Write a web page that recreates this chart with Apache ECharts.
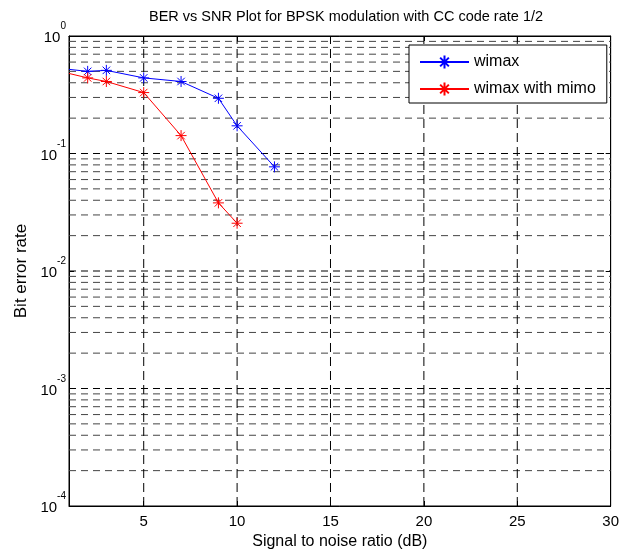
<!DOCTYPE html>
<html>
<head>
<meta charset="utf-8">
<script src="https://cdn.jsdelivr.net/npm/echarts@6/dist/echarts.min.js"></script>
<style>
html,body{margin:0;padding:0;background:#fff;}
#chart{width:622px;height:557px;}
</style>
</head>
<body>
<div id="chart"></div>
<script>
// ---- data ----
const snrWimax = [1, 2, 3, 5, 7, 9, 10, 12];
const berWimax = [0.52, 0.50, 0.51, 0.44, 0.41, 0.295, 0.172, 0.077];
const snrMimo = [1, 2, 3, 5, 7, 9, 10];
const berMimo = [0.48, 0.44, 0.41, 0.33, 0.142, 0.038, 0.0255];
const seriesNames = ['wimax', 'wimax with mimo'];
const xTicks = [5, 10, 15, 20, 25, 30];
const xRange = [1, 30];
const yRange = [0.0001, 1];
const yMajorGrid = [0.001, 0.01, 0.1];
const decades = [0.0001, 0.001, 0.01, 0.1];
const minorMultipliers = [2, 3, 4, 5, 6, 7, 8, 9];
const xGrid = [5, 10, 15, 20, 25];

const yMinorGrid = [];
decades.forEach(d => minorMultipliers.forEach(m => yMinorGrid.push(+(d * m).toPrecision(3))));

const FONT = 'Liberation Sans';
const star = 'path://M5,0L5,10M0,5L10,5M1.6,1.6L8.4,8.4M1.6,8.4L8.4,1.6';

function mkData(xs, ys) {
  return xs.map((x, i) => i === 0 ? {value: [x, ys[i]], symbol: 'none'} : [x, ys[i]]);
}
function hSegs(vals) {
  const out = [];
  vals.forEach(v => { out.push([xRange[0], v], [xRange[1], v], ['-', '-']); });
  return out;
}
function vSegs(vals) {
  const out = [];
  vals.forEach(v => { out.push([v, yRange[0]], [v, yRange[1]], ['-', '-']); });
  return out;
}
function gridSeries(data, color, dash) {
  return {
    type: 'line', data: data, silent: true, symbol: 'none', z: 1,
    connectNulls: false, clip: true,
    lineStyle: {color: color, width: 1, type: dash},
    emphasis: {disabled: true}, tooltip: {show: false}
  };
}

const chart = echarts.init(document.getElementById('chart'), null, {renderer: 'canvas'});
chart.setOption({
  animation: false,
  backgroundColor: '#fff',
  textStyle: {fontFamily: FONT},
  title: {
    text: 'BER vs SNR Plot for BPSK modulation with CC code rate 1/2',
    left: 341, top: 4, textAlign: 'center',
    textStyle: {fontFamily: FONT, fontSize: 14.5, fontWeight: 'normal', color: '#000'}
  },
  grid: {left: 69, right: 9, top: 36, bottom: 51, show: true, borderColor: '#000', borderWidth: 1, containLabel: false},
  legend: {
    orient: 'vertical', left: 409, top: 45,
    padding: [9, 11, 6, 10], itemGap: 11, itemWidth: 49, itemHeight: 16,
    backgroundColor: '#fff', borderColor: '#000', borderWidth: 1,
    textStyle: {fontFamily: FONT, fontSize: 16, color: '#000'},
    data: seriesNames
  },
  xAxis: [{
    type: 'value', min: xRange[0], max: xRange[1],
    name: 'Signal to noise ratio (dB)', nameLocation: 'middle', nameGap: 28,
    nameTextStyle: {fontFamily: FONT, fontSize: 16, color: '#000'},
    axisLine: {show: true, lineStyle: {color: '#000'}},
    axisTick: {show: true, inside: true, length: 5, customValues: xTicks, lineStyle: {color: '#000'}},
    axisLabel: {customValues: xTicks, fontFamily: FONT, fontSize: 15, color: '#000', margin: 8},
    splitLine: {show: false}
  }, {
    type: 'value', min: xRange[0], max: xRange[1], position: 'top',
    axisLine: {show: true, lineStyle: {color: '#000'}},
    axisTick: {show: true, inside: true, length: 5, customValues: xTicks, lineStyle: {color: '#000'}},
    axisLabel: {show: false},
    splitLine: {show: false}
  }],
  yAxis: [{
    type: 'log', logBase: 10, min: yRange[0], max: yRange[1],
    name: 'Bit error rate', nameLocation: 'middle', nameGap: 39,
    nameTextStyle: {fontFamily: FONT, fontSize: 17, color: '#000'},
    axisLine: {show: true, lineStyle: {color: '#000'}},
    axisTick: {show: true, inside: true, length: 5, lineStyle: {color: '#000'}},
    axisLabel: {
      margin: 3,
      padding: [0, 0, 5, 0],
      formatter: v => '{b|10}{s|' + Math.round(Math.log10(v)) + '}',
      rich: {
        b: {fontFamily: FONT, fontSize: 15, color: '#000', lineHeight: 24, verticalAlign: 'bottom'},
        s: {fontFamily: FONT, fontSize: 10, color: '#000', lineHeight: 24, verticalAlign: 'top'}
      }
    },
    splitLine: {show: false}
  }, {
    type: 'log', logBase: 10, min: yRange[0], max: yRange[1], position: 'right',
    axisLine: {show: true, lineStyle: {color: '#000'}},
    axisTick: {show: true, inside: true, length: 5, lineStyle: {color: '#000'}},
    axisLabel: {show: false},
    splitLine: {show: false}
  }],
  series: [
    gridSeries(hSegs(yMinorGrid), '#444', [7, 5]),
    gridSeries(hSegs(yMajorGrid), '#000', [7, 5]),
    gridSeries(vSegs(xGrid), '#000', [9, 5]),
    {
      name: seriesNames[0], type: 'line', z: 3,
      data: mkData(snrWimax, berWimax),
      symbol: star, symbolSize: 11,
      lineStyle: {color: '#0000ff', width: 1},
      itemStyle: {color: '#0000ff', borderColor: '#0000ff', borderWidth: 1}
    }, {
      name: seriesNames[1], type: 'line', z: 3,
      data: mkData(snrMimo, berMimo),
      symbol: star, symbolSize: 11,
      lineStyle: {color: '#ff0000', width: 1},
      itemStyle: {color: '#ff0000', borderColor: '#ff0000', borderWidth: 1}
    }
  ]
});
</script>
</body>
</html>
